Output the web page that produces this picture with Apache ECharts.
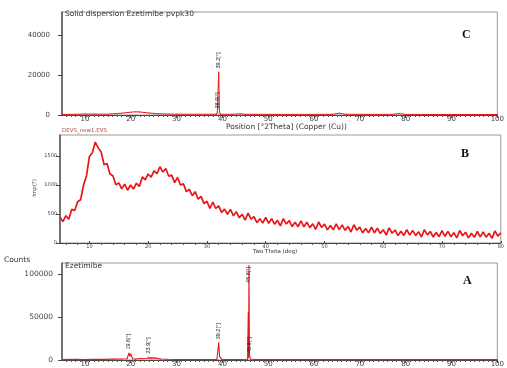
<!DOCTYPE html>
<html><head><meta charset="utf-8">
<script src="https://cdn.jsdelivr.net/npm/echarts@6/dist/echarts.min.js"></script>
<style>html,body{margin:0;padding:0;background:#fff}#c{width:507px;height:368px}</style>
</head><body><div id="c"></div>
<script>
// Panel C: Solid dispersion Ezetimibe pvpk30
const cAngle  = [5, 8, 10, 12, 15, 18, 20, 21, 22, 24, 26, 30, 35, 38.7, 38.9, 39.05, 39.2, 39.35, 39.5, 42, 44, 45, 55, 64, 65.5, 67, 77, 78.5, 80, 90, 100];
const cCounts = [300, 350, 500, 450, 400, 900, 1400, 1600, 1500, 1000, 600, 400, 350, 400, 1500, 800, 21500, 2500, 400, 350, 600, 350, 300, 350, 900, 350, 300, 700, 300, 250, 250];
const cPeakAngles = [38.9, 39.2];
const cPeakTexts  = ['38.9[°]', '39.2[°]'];

// Panel B: DEVS_new1.EVS (start angle and step of the scan)
const bStart = 5, bStep = 0.5;
const bIntensity = [440,370,470,410,580,560,710,745,995,1155,1490,1555,1740,1640,1570,1350,1370,1190,1160,1005,
1035,935,1015,910,1000,930,1030,975,1140,1090,1190,1135,1245,1195,1315,1223,1285,1150,1170,1040,
1130,1000,1020,885,925,815,885,755,805,680,720,595,705,595,640,525,585,495,580,470,
540,435,495,395,515,410,455,350,420,343,440,340,420,325,390,295,420,327,385,283,
357,281,380,280,360,265,330,236,362,268,325,226,302,228,330,231,312,218,285,190,
315,220,275,175,250,175,275,176,257,163,230,136,262,168,225,127,203,130,232,135,
218,126,195,103,231,140,198,102,180,109,212,116,200,109,178,87,216,125,185,89,
168,97,202,106,190,100,169,79,208,118,178];

// Panel A: Ezetimibe
const aAngle  = [5, 8, 10, 12, 14, 16, 18, 19.2, 19.6, 19.8, 20.0, 20.4, 21, 22, 23.5, 23.9, 24.2, 24.6, 25.5, 26.5, 28, 30, 35, 38.8, 39.2, 39.4, 39.6, 39.9, 44, 45.5, 45.65, 45.72, 45.8, 45.9, 45.97, 46.1, 47, 50, 60, 70, 80, 90, 100];
const aCounts = [500, 800, 600, 900, 700, 1000, 1200, 1500, 8000, 4500, 7000, 1500, 1200, 1800, 2000, 3500, 2500, 1500, 2200, 1200, 800, 600, 500, 600, 20000, 4000, 2500, 600, 500, 800, 55000, 3000, 110000, 6000, 4000, 1200, 500, 400, 400, 400, 400, 400, 400];
const aPeakAngles = [19.6, 23.9, 39.2, 45.8, 45.97];
const aPeakTexts  = ['19.6[°]', '23.9[°]', '39.2[°]', '45.8[°]', '45.9[°]'];

// Tick values
const xTicksCA = [10, 20, 30, 40, 50, 60, 70, 80, 90, 100];
const xTicksB  = [10, 20, 30, 40, 50, 60, 70, 80];
const cYTicks = [0, 20000, 40000];
const bYTicks = [0, 500, 1000, 1500];
const aYTicks = [0, 50000, 100000];
const minorCA = []; for (let v = 6; v < 100; v++) if (v % 10) minorCA.push(v);
const minorB = []; for (let v = 6; v < 80; v += 2) if (v % 10) minorB.push(v);

const FONT = 'DejaVu Sans';
const RED = '#e8161a';
const plain = v => String(v);

function peakData(angles, counts, pAngles, pTexts, topIdx) {
  return angles.map((a, i) => {
    const k = pAngles.indexOf(a);
    if (k < 0) return [a, counts[i]];
    const atTop = (topIdx === a);
    return {
      value: [a, counts[i]],
      label: {
        show: true, formatter: pTexts[k], rotate: 90,
        position: atTop ? 'bottom' : 'top', distance: atTop ? 1 : 3,
        align: atTop ? 'right' : 'left', verticalAlign: 'middle',
        fontSize: 5.5, fontFamily: 'Liberation Sans', color: '#222'
      }
    };
  });
}

function xMain(grid, max, ticks, fs, margin, inside) {
  return {
    type: 'value', gridIndex: grid, min: 5, max: max, position: 'bottom',
    axisLine: { show: true, onZero: false, lineStyle: { color: '#444', width: 1 } },
    axisTick: { show: true, customValues: ticks, length: inside ? 2 : 3, inside: !!inside, lineStyle: { color: '#444' } },
    axisLabel: { customValues: ticks, formatter: plain, fontSize: fs, margin: margin, color: '#444', fontFamily: FONT },
    splitLine: { show: false }
  };
}
function xMinor(grid, max, ticks) {
  return {
    type: 'value', gridIndex: grid, min: 5, max: max, position: 'bottom', offset: 0,
    axisLine: { show: false, onZero: false },
    axisTick: { show: true, customValues: ticks, length: 2, lineStyle: { color: '#555' } },
    axisLabel: { show: false }, splitLine: { show: false }
  };
}
function yAx(grid, max, ticks, fs, margin) {
  return {
    type: 'value', gridIndex: grid, min: 0, max: max,
    axisLine: { show: true, lineStyle: { color: '#555', width: 1.5 } },
    axisTick: { show: true, customValues: ticks, length: 4, lineStyle: { color: '#444' } },
    axisLabel: { customValues: ticks, formatter: plain, fontSize: fs, margin: margin, color: '#444', fontFamily: FONT },
    splitLine: { show: false }
  };
}

const chart = echarts.init(document.getElementById('c'), null, { renderer: 'canvas' });
const txt = (x, y, s, fs, extra) => Object.assign({
  type: 'text', x: x, y: y,
  style: Object.assign({ text: s, fontSize: fs, fontFamily: FONT, fill: '#333', verticalAlign: 'middle' }, extra || {})
});
const lineSeries = (idx, data, width) => ({
  type: 'line', xAxisIndex: idx, yAxisIndex: idx, symbol: 'circle', symbolSize: 1, showSymbol: true,
  itemStyle: { color: RED }, lineStyle: { color: RED, width: width },
  data: data, z: 3
});

chart.setOption({
  animation: false,
  backgroundColor: '#fff',
  grid: [
    { left: 62, top: 12, width: 443, height: 103, show: true, borderColor: '#999', borderWidth: 1 },
    { left: 60, top: 135, width: 442, height: 108, show: true, borderColor: '#999', borderWidth: 1 },
    { left: 62, top: 263, width: 443, height: 97, show: true, borderColor: '#999', borderWidth: 1 }
  ],
  xAxis: [
    xMain(0, 100, xTicksCA, 7, 1),
    xMain(1, 80, xTicksB, 5, 1, true),
    xMain(2, 100, xTicksCA, 7, 1),
    xMinor(0, 100, minorCA),
    xMinor(1, 80, minorB),
    xMinor(2, 100, minorCA)
  ],
  yAxis: [
    yAx(0, 51500, cYTicks, 7, 12),
    yAx(1, 1862, bYTicks, 5, 3),
    yAx(2, 112800, aYTicks, 7.5, 9)
  ],
  series: [
    lineSeries(0, peakData(cAngle, cCounts, cPeakAngles, cPeakTexts, null), 1),
    Object.assign(lineSeries(1, bIntensity.map((v, i) => [bStart + i * bStep, v]), 1.7), { symbol: 'none' }),
    lineSeries(2, peakData(aAngle, aCounts, aPeakAngles, aPeakTexts, 45.8), 1.1)
  ],
  graphic: [
    txt(65, 14, 'Solid dispersion Ezetimibe pvpk30', 7.5),
    txt(226, 127, 'Position [°2Theta] (Copper (Cu))', 7.5),
    txt(462, 35, 'C', 12, { fontFamily: 'Liberation Serif', fontWeight: 'bold', fill: '#111' }),
    txt(62, 131, 'DEVS_new1.EVS', 5.5, { fill: '#c04848' }),
    { type: 'text', x: 35, y: 188, rotation: Math.PI / 2,
      style: { text: 'Imp(?)', fontSize: 5.5, fontFamily: FONT, fill: '#444', align: 'center', verticalAlign: 'middle' } },
    txt(253, 252, 'Two Theta (deg)', 5.5),
    txt(461, 154, 'B', 12, { fontFamily: 'Liberation Serif', fontWeight: 'bold', fill: '#111' }),
    txt(4, 260, 'Counts', 7.5),
    txt(65, 266, 'Ezetimibe', 7.5),
    txt(463, 281, 'A', 12, { fontFamily: 'Liberation Serif', fontWeight: 'bold', fill: '#111' })
  ]
});
</script></body></html>
